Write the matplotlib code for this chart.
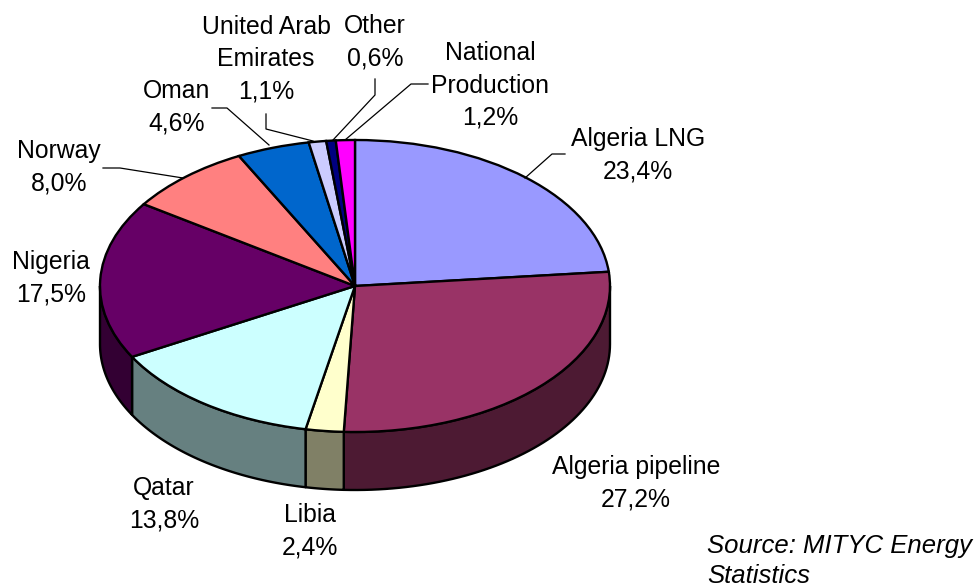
import numpy as np
import matplotlib
matplotlib.use("Agg")
import matplotlib.pyplot as plt

plt.rcParams['font.family'] = ['Liberation Sans', 'DejaVu Sans']

categories = ["Algeria LNG", "Algeria pipeline", "Libia", "Qatar", "Nigeria", "Norway",
              "Oman", "United Arab\nEmirates", "Other", "National\nProduction"]
values = [23.4, 27.2, 2.4, 13.8, 17.5, 8.0, 4.6, 1.1, 0.6, 1.2]
value_labels = ["23,4%", "27,2%", "2,4%", "13,8%", "17,5%", "8,0%", "4,6%", "1,1%", "0,6%", "1,2%"]
top_colors = ["#9999FF", "#993366", "#FFFFCC", "#CCFFFF", "#660066", "#FF8080",
              "#0066CC", "#CCCCFF", "#000080", "#FF00FF"]
side_colors = ["#4D4D80", "#4D1A33", "#808066", "#668080", "#330033", "#804040",
               "#003366", "#666680", "#000040", "#800080"]
label_pos = [(638, 155.5), (636, 483.5), (310, 531), (164, 504), (51, 278.5), (59, 167),
             (177, 107), (266, 59.5), (375, 42.5), (490, 85.5)]
leaders = [[(525, 178), (552, 154), (565, 154)], None, None, None, None,
           [(183, 178), (120, 168), (103, 168)],
           [(269, 145), (227, 108), (212, 108)],
           [(313, 141), (266, 129), (266, 114)],
           [(333, 140), (375, 95), (375, 79)],
           [(345, 140), (411, 84), (428, 84)]]
source_text = "Source: MITYC Energy\nStatistics"

W, H = 980, 588
CX, CY, RX, RY, DEPTH = 355, 286, 255, 146, 58

fig = plt.figure(figsize=(W / 100, H / 100), dpi=100)
ax = fig.add_axes([0, 0, 1, 1])

# Pie top, squashed by the axes scale into an ellipse
ax.pie(values, colors=top_colors, startangle=90, counterclock=False, radius=1, center=(0, 0),
       wedgeprops=dict(edgecolor="black", linewidth=1.7, zorder=3))
ax.set_aspect("auto")
ax.set_xlim(-CX / RX, (W - CX) / RX)
ax.set_ylim(-(H - CY) / RY, CY / RY)
ax.set_axis_off()

def px(x, y):
    return (x - CX) / RX, (CY - y) / RY

# Side walls
depth = DEPTH / RY
edges = np.cumsum([0] + values) / sum(values) * 360
for i in range(len(values)):
    a0, a1 = max(edges[i], 90), min(edges[i + 1], 270)
    if a1 <= a0:
        continue
    t = np.radians(np.linspace(a0, a1, 60))
    x, y = np.sin(t), np.cos(t)
    ax.fill(np.r_[x, x[::-1]], np.r_[y, y[::-1] - depth], facecolor=side_colors[i],
            edgecolor="black", linewidth=1.7, zorder=2, joinstyle="round")

# Labels and leader lines
for name, val, pos, lead in zip(categories, value_labels, label_pos, leaders):
    ax.text(*px(*pos), f"{name}\n{val}", ha="center", va="center", fontsize=17.8,
            linespacing=1.44, color="black", zorder=5)
    if lead:
        xs, ys = zip(*[px(*p) for p in lead])
        ax.plot(xs, ys, color="black", lw=0.9, zorder=4)

ax.text(*px(707, 561), source_text, ha="left", va="center", fontsize=18.5, style="italic",
        linespacing=1.28, color="black", zorder=5)

fig.savefig("out.png", dpi=100)
